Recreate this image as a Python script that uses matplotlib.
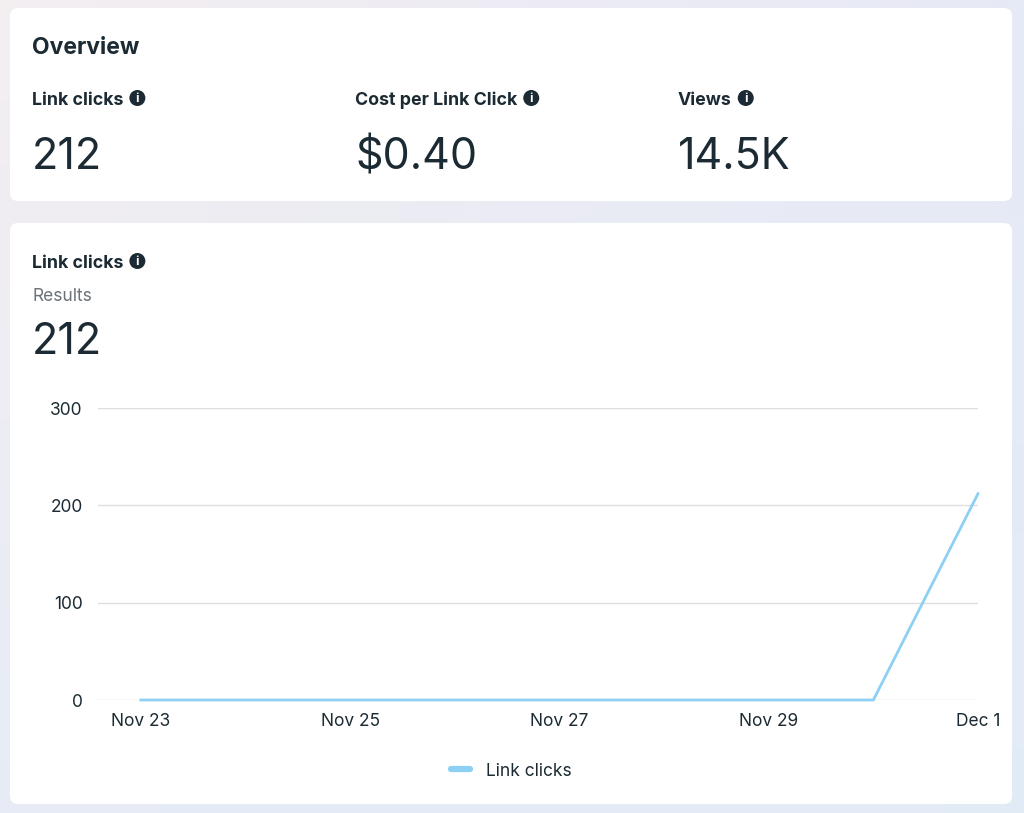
import matplotlib.pyplot as plt
import numpy as np
from matplotlib.patches import FancyBboxPatch, Circle

# Data
dates = ['Nov 23', 'Nov 24', 'Nov 25', 'Nov 26', 'Nov 27', 'Nov 28', 'Nov 29', 'Nov 30', 'Dec 1']
link_clicks = [0, 0, 0, 0, 0, 0, 0, 0, 212]
tick_labels = ['Nov 23', 'Nov 25', 'Nov 27', 'Nov 29', 'Dec 1']
y_ticks = [0, 100, 200, 300]

overview_labels = ['Link clicks', 'Cost per Link Click', 'Views']
overview_values = ['212', '$0.40', '14.5K']
total_clicks = '212'

plt.rcParams['font.family'] = ['Inter', 'DejaVu Sans']
DARK = '#1c2b33'
GRAY = '#6b7278'
LINE = '#8dd0f3'

W, H = 1024, 813
fig = plt.figure(figsize=(W / 100, H / 100), dpi=100)

# background axes in pixel coordinates
bg = fig.add_axes([0, 0, 1, 1])
bg.set_xlim(0, W)
bg.set_ylim(H, 0)
bg.axis('off')

# soft gradient background
gx = np.linspace(0, 1, 64)
gy = np.linspace(0, 1, 64)
GX, GY = np.meshgrid(gx, gy)
c_tl = np.array([0.955, 0.935, 0.945])
c_tr = np.array([0.905, 0.915, 0.965])
c_bl = np.array([0.905, 0.925, 0.965])
c_br = np.array([0.885, 0.925, 0.965])
img = (c_tl * ((1 - GX) * (1 - GY))[..., None] + c_tr * (GX * (1 - GY))[..., None]
       + c_bl * ((1 - GX) * GY)[..., None] + c_br * (GX * GY)[..., None])
bg.imshow(img, extent=[0, W, H, 0], aspect='auto', zorder=0)

# cards
for (x0, y0, x1, y1) in [(10, 8, 1012, 201), (10, 223, 1012, 804)]:
    bg.add_patch(FancyBboxPatch((x0, y0), x1 - x0, y1 - y0,
                                boxstyle='round,pad=0,rounding_size=8',
                                fc='white', ec='none', zorder=1))


def info_icon(x, y):
    bg.add_patch(Circle((x, y), 8, fc=DARK, ec='none', zorder=3))
    bg.text(x, y + 0.5, 'i', color='white', fontsize=9, fontweight='bold',
            ha='center', va='center', zorder=4)


bg.text(32, 54, 'Overview', fontsize=16.5, fontweight='bold', color=DARK, va='baseline', zorder=3)

cols = [32, 355, 678]
for x, lab, val in zip(cols, overview_labels, overview_values):
    t = bg.text(x, 105, lab, fontsize=12.8, fontweight='bold', color=DARK, va='baseline', zorder=3)
    fig.canvas.draw()
    bb = t.get_window_extent()
    info_icon(bb.x1 + 14, 98)
    bg.text(x, 169, val, fontsize=31, color=DARK, va='baseline', zorder=3)

t = bg.text(32, 268, 'Link clicks', fontsize=12.8, fontweight='bold', color=DARK, va='baseline', zorder=3)
fig.canvas.draw()
info_icon(t.get_window_extent().x1 + 14, 261)
bg.text(32, 301, 'Results', fontsize=12.5, color=GRAY, va='baseline', zorder=3)
bg.text(32, 354, total_clicks, fontsize=31, color=DARK, va='baseline', zorder=3)

# chart axes
ax = fig.add_axes([98 / W, 1 - 700 / H, (978 - 98) / W, (700 - 408) / H])
ax.patch.set_alpha(0)
x = np.arange(len(dates))
ax.plot(x, link_clicks, color=LINE, lw=2, clip_on=False, label='Link clicks', zorder=3)
ax.set_xlim(-0.41, len(dates) - 1)
ax.set_ylim(0, 300)
ax.set_yticks(y_ticks)
ax.set_xticks(x[::2])
ax.set_xticklabels(tick_labels)
ax.grid(axis='y', color='#dddfe2', lw=1)
ax.set_axisbelow(True)
for s in ax.spines.values():
    s.set_visible(False)
ax.tick_params(length=0, labelsize=12.5, labelcolor=DARK)
ax.tick_params(axis='y', pad=11)
ax.tick_params(axis='x', pad=9)

leg = ax.legend(loc='center', bbox_to_anchor=(511 / W, 1 - 771 / H), bbox_transform=fig.transFigure,
                frameon=False, fontsize=12.5, handlelength=1.1, handletextpad=0.9)
for h in leg.get_lines():
    h.set_linewidth(4.5)
    h.set_solid_capstyle('round')
for txt in leg.get_texts():
    txt.set_color(DARK)

fig.savefig('out.png', dpi=100)
